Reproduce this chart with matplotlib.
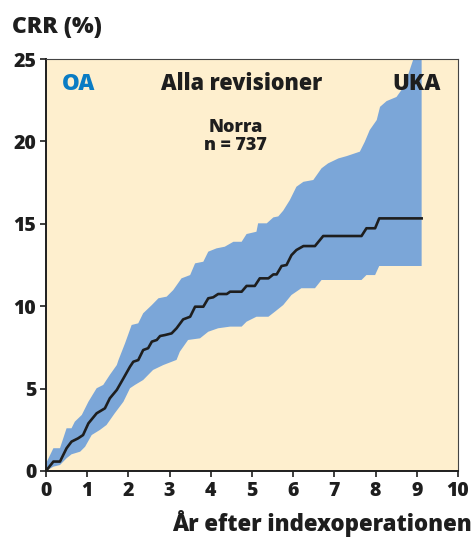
import matplotlib.pyplot as plt

# median curve (CRR %) vs years
med_x = [0, 0.18, 0.34, 0.5, 0.62, 0.78, 0.9, 1.03, 1.23, 1.43, 1.55, 1.72, 1.88, 2.04, 2.12, 2.24,
         2.36, 2.48, 2.57, 2.69, 2.77, 2.89, 3.05, 3.17, 3.33, 3.5, 3.62, 3.82, 3.94, 4.06, 4.18, 4.39,
         4.47, 4.75, 4.87, 5.07, 5.19, 5.4, 5.52, 5.6, 5.72, 5.84, 5.96, 6.08, 6.25, 6.53, 6.73, 7.66,
         7.78, 7.99, 8.09, 9.12]
med_y = [0, 0.57, 0.57, 1.38, 1.78, 1.98, 2.18, 2.89, 3.5, 3.8, 4.41, 4.92, 5.62, 6.33, 6.63, 6.73,
         7.34, 7.45, 7.85, 7.95, 8.19, 8.25, 8.35, 8.66, 9.2, 9.36, 9.97, 9.97, 10.48, 10.54, 10.74, 10.74,
         10.88, 10.88, 11.23, 11.23, 11.69, 11.69, 11.93, 11.93, 12.44, 12.5, 13.1, 13.41, 13.65, 13.65, 14.26, 14.26,
         14.73, 14.73, 15.33, 15.33]

# upper confidence limit
up_x = [0, 0.18, 0.34, 0.5, 0.62, 0.7, 0.87, 1.03, 1.23, 1.39, 1.55, 1.72, 1.76, 1.92, 2.08, 2.24,
        2.36, 2.57, 2.73, 2.93, 3.09, 3.29, 3.5, 3.62, 3.82, 3.94, 4.14, 4.34, 4.55, 4.75, 4.87, 5.11,
        5.15, 5.36, 5.52, 5.64, 5.76, 5.92, 6.08, 6.25, 6.49, 6.69, 6.85, 7.1, 7.3, 7.62, 7.74, 7.86,
        8.03, 8.11, 8.27, 8.51, 8.63, 8.75, 8.92, 9.12]
up_y = [0.45, 1.38, 1.38, 2.59, 2.59, 2.99, 3.4, 4.2, 5.02, 5.22, 5.83, 6.43, 6.73, 7.75, 8.86, 8.96,
        9.57, 10.07, 10.48, 10.58, 10.98, 11.69, 11.89, 12.6, 12.7, 13.31, 13.51, 13.61, 13.91, 13.91, 14.38, 14.52,
        15.03, 15.03, 15.39, 15.45, 15.8, 16.44, 17.25, 17.55, 17.66, 18.37, 18.67, 18.97, 19.11, 19.38, 19.98, 20.69,
        21.3, 22.1, 22.45, 22.7, 23.12, 23.73, 25, 25]

# lower confidence limit
lo_x = [0, 0.18, 0.34, 0.5, 0.62, 0.83, 0.95, 1.11, 1.31, 1.47, 1.67, 1.88, 2.04, 2.16, 2.36, 2.6,
        2.85, 3.17, 3.25, 3.45, 3.74, 3.94, 4.18, 4.47, 4.75, 4.87, 5.11, 5.4, 5.56, 5.76, 5.96, 6.2,
        6.53, 6.69, 7.66, 7.78, 7.99, 8.09, 9.12]
lo_y = [0, 0.26, 0.36, 0.77, 1.01, 1.17, 1.47, 2.18, 2.49, 2.79, 3.5, 4.2, 5.02, 5.22, 5.52, 6.13,
        6.43, 6.74, 7.24, 7.95, 8.05, 8.45, 8.66, 8.76, 8.76, 9.06, 9.36, 9.36, 9.67, 10.07, 10.68, 11.09,
        11.09, 11.59, 11.59, 11.89, 11.89, 12.44, 12.44]

x_ticks = [0, 1, 2, 3, 4, 5, 6, 7, 8, 9, 10]
y_ticks = [0, 5, 10, 15, 20, 25]

plt.rcParams['font.family'] = ['Open Sans', 'DejaVu Sans']
W = 800  # extra bold

fig = plt.figure(figsize=(4.74, 5.37), dpi=100)
ax = fig.add_axes([0.097, 0.123, 0.869, 0.767])
ax.set_facecolor('#feefce')

band_x = up_x + lo_x[::-1]
band_y = up_y + lo_y[::-1]
ax.fill(band_x, band_y, color='#7ba6d8', lw=0, zorder=1)
ax.plot(med_x, med_y, color='#1e1e1e', lw=1.9, zorder=2)

ax.set_xlim(0, 10)
ax.set_ylim(0, 25)
ax.set_xticks(x_ticks)
ax.set_yticks(y_ticks)
ax.tick_params(labelsize=14, length=4, width=1.2, colors='#1e1e1e', pad=3)
for lab in ax.get_xticklabels() + ax.get_yticklabels():
    lab.set_fontweight(W)
for s in ['left', 'bottom']:
    ax.spines[s].set_linewidth(1.4)
    ax.spines[s].set_color('#1e1e1e')
for s in ['top', 'right']:
    ax.spines[s].set_linewidth(0.8)
    ax.spines[s].set_color('#444444')

ax.text(0.39, 23.5, 'OA', color='#0a7cc4', fontsize=16, fontweight=W, va='center', ha='left')
ax.text(4.74, 23.5, 'Alla revisioner', color='#1e1e1e', fontsize=15.5, fontweight=W, va='center', ha='center')
ax.text(9.59, 23.5, 'UKA', color='#1e1e1e', fontsize=16, fontweight=W, va='center', ha='right')
ax.text(4.6, 20.3, 'Norra\nn = 737', color='#1e1e1e', fontsize=13, fontweight=W,
        va='center', ha='center', linespacing=1.05)

fig.text(0.025, 0.95, 'CRR (%)', color='#1e1e1e', fontsize=16.5, fontweight=W, va='center', ha='left')
fig.text(0.995, 0.025, 'År efter indexoperationen', color='#1e1e1e', fontsize=16,
         fontweight=W, va='center', ha='right')

fig.savefig('out.png', dpi=100)
